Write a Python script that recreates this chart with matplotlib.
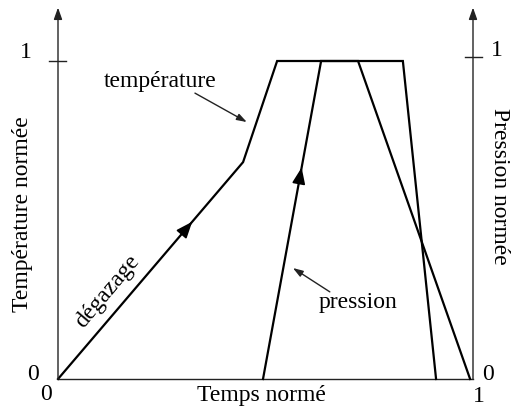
import matplotlib
matplotlib.use("Agg")
import matplotlib.pyplot as plt

# Data (normalized)
temp_x = [0.0, 0.446, 0.528, 0.831, 0.911]
temp_y = [0.0, 0.682, 1.0, 1.0, 0.0]
pres_x = [0.494, 0.634, 0.723, 0.993]
pres_y = [0.0, 1.0, 1.0, 0.0]

left_ticks = [0, 1]
right_ticks = [0, 1]
bottom_ticks = [0, 1]

W, H = 512, 409
fig = plt.figure(figsize=(W / 100, H / 100), dpi=100)
ax = fig.add_axes([58 / W, (H - 379) / H, 415 / W, 318 / H])
ax.set_xlim(0, 1)
ax.set_ylim(0, 1)
ax.axis("off")

font = "Liberation Serif"
fs = 17
axc = "#222222"

# axes lines with arrows
ax.annotate("", xy=(0, 1.168), xytext=(0, 0),
            arrowprops=dict(arrowstyle="-|>,head_length=0.7,head_width=0.25", color=axc, lw=1.0,
                            shrinkA=0, shrinkB=0), annotation_clip=False)
ax.annotate("", xy=(1.0, 1.168), xytext=(1.0, 0),
            arrowprops=dict(arrowstyle="-|>,head_length=0.7,head_width=0.25", color=axc, lw=1.0,
                            shrinkA=0, shrinkB=0), annotation_clip=False)
ax.plot([0, 1], [0, 0], color=axc, lw=1.0, clip_on=False)

# tick marks at 1
ax.plot([-0.022, 0.019], [1.0, 1.0], color=axc, lw=1.0, clip_on=False)
ax.plot([0.98, 1.022], [1.013, 1.013], color=axc, lw=1.0, clip_on=False)

# curves
ax.plot(temp_x, temp_y, color="black", lw=1.6, clip_on=False, solid_joinstyle="miter")
ax.plot(pres_x, pres_y, color="black", lw=1.6, clip_on=False, solid_joinstyle="miter")

# direction arrows on curves
def arrow_on(xs, ys, i, t):
    x0, y0 = xs[i], ys[i]
    x1, y1 = xs[i + 1], ys[i + 1]
    hx, hy = x0 + (x1 - x0) * t, y0 + (y1 - y0) * t
    bx, by = x0 + (x1 - x0) * (t - 0.02), y0 + (y1 - y0) * (t - 0.02)
    ax.annotate("", xy=(hx, hy), xytext=(bx, by),
                arrowprops=dict(arrowstyle="-|>,head_length=1.0,head_width=0.4", color="black",
                                lw=1.2, shrinkA=0, shrinkB=0))

arrow_on(temp_x, temp_y, 0, 0.725)
arrow_on(pres_x, pres_y, 0, 0.665)

# annotations
ax.annotate("", xy=(0.455, 0.808), xytext=(0.330, 0.899),
            arrowprops=dict(arrowstyle="-|>,head_length=0.6,head_width=0.2", color=axc, lw=1.0,
                            shrinkA=0, shrinkB=0))
ax.text(0.246, 0.934, "température", family=font, fontsize=fs, ha="center", va="center")
ax.annotate("", xy=(0.566, 0.349), xytext=(0.655, 0.274),
            arrowprops=dict(arrowstyle="-|>,head_length=0.6,head_width=0.2", color=axc, lw=1.0,
                            shrinkA=0, shrinkB=0))
ax.text(0.723, 0.239, "pression", family=font, fontsize=fs, ha="center", va="center")
ax.text(0.120, 0.274, "dégazage", family=font, fontsize=fs, ha="center", va="center",
        rotation=50, rotation_mode="anchor")

# tick labels
fig.text(33 / W, 1 - 375 / H, str(left_ticks[0]), family=font, fontsize=fs, ha="center", va="center")
fig.text(26 / W, 1 - 52 / H, str(left_ticks[1]), family=font, fontsize=fs, ha="center", va="center")
fig.text(46 / W, 1 - 394 / H, str(bottom_ticks[0]), family=font, fontsize=fs, ha="center", va="center")
fig.text(479 / W, 1 - 396 / H, str(bottom_ticks[1]), family=font, fontsize=fs, ha="center", va="center")
fig.text(488 / W, 1 - 375 / H, str(right_ticks[0]), family=font, fontsize=fs, ha="center", va="center")
fig.text(497 / W, 1 - 51 / H, str(right_ticks[1]), family=font, fontsize=fs, ha="center", va="center")

# axis titles
fig.text(23 / W, 1 - 214 / H, "Température normée", family=font, fontsize=fs, rotation=90,
         ha="center", va="center")
fig.text(500 / W, 1 - 186 / H, "Pression normée", family=font, fontsize=fs, rotation=-90,
         ha="center", va="center")
fig.text(261 / W, 1 - 396 / H, "Temps normé", family=font, fontsize=fs, ha="center", va="center")

fig.savefig("out.png", dpi=100, facecolor="white")
